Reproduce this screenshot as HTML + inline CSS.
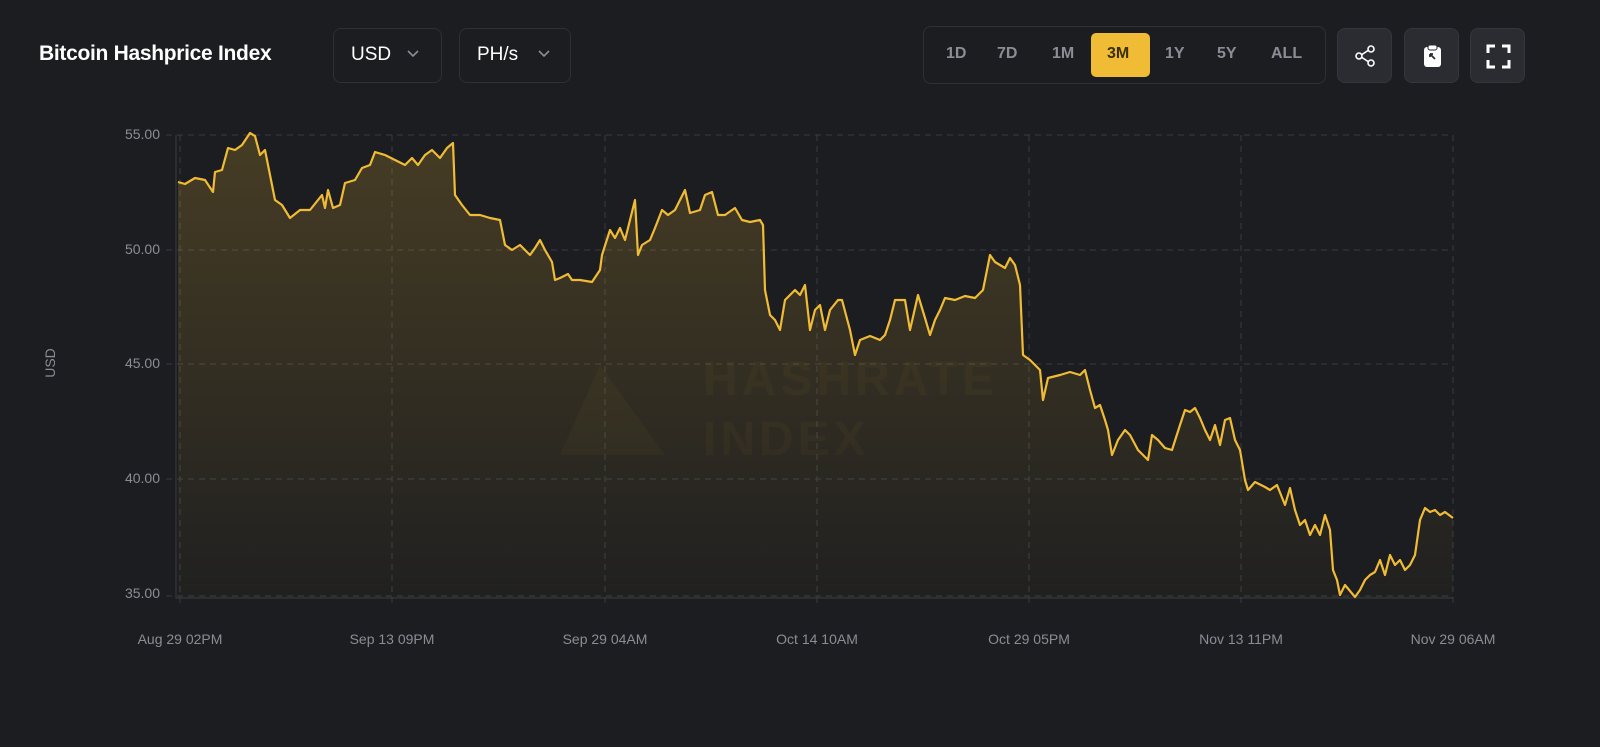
<!DOCTYPE html>
<html><head><meta charset="utf-8"><style>
*{margin:0;padding:0;box-sizing:border-box}
body{width:1600px;height:747px;background:#1c1d20;font-family:"Liberation Sans",sans-serif;position:relative;overflow:hidden;color:#fff}
.title{position:absolute;left:39px;top:42px;font-size:21px;font-weight:bold;letter-spacing:-0.3px}
.dd{position:absolute;top:28px;height:55px;border:1px solid #2e3035;border-radius:8px;font-size:19px;color:#fff;padding:15px 0 0 17px}
.dd svg{position:absolute;top:21px}
.seg{position:absolute;left:923px;top:26px;width:403px;height:58px;border:1px solid #2e3035;border-radius:8px}
.seg span{position:absolute;top:19px;font-size:16px;color:#8a8d95;font-weight:bold}
.act{position:absolute;left:1091px;top:33px;width:59px;height:44px;background:#f0bb35;border-radius:5px}
.btn{position:absolute;top:28px;width:55px;height:55px;background:#2b2c32;border:1px solid #34363c;border-radius:8px}
.yl{position:absolute;right:1440px;font-size:14px;color:#8a8d95}
.xl{position:absolute;top:631px;font-size:14px;color:#8a8d95;transform:translateX(-50%);white-space:nowrap}
</style></head><body>
<div class="title">Bitcoin Hashprice Index</div>
<div class="dd" style="left:333px;width:109px">USD<svg style="left:73px" width="12" height="8"><path d="M1 1l5 5 5-5" stroke="#8a8d95" stroke-width="1.6" fill="none"/></svg></div>
<div class="dd" style="left:459px;width:112px">PH/s<svg style="left:78px" width="12" height="8"><path d="M1 1l5 5 5-5" stroke="#8a8d95" stroke-width="1.6" fill="none"/></svg></div>
<div class="seg"></div>
<div class="act"></div>
<div class="seg" style="border:none">
<span style="left:23px">1D</span><span style="left:74px">7D</span><span style="left:129px">1M</span><span style="left:184px;color:#3a3000">3M</span><span style="left:242px">1Y</span><span style="left:294px">5Y</span><span style="left:348px">ALL</span></div>
<div class="btn" style="left:1337px"><svg width="55" height="55"><g stroke="#fff" stroke-width="1.6" fill="none"><circle cx="21" cy="27" r="3"/><circle cx="33" cy="20" r="3"/><circle cx="33" cy="34" r="3"/><path d="M24 25.5l6-4M24 28.5l6 4"/></g></svg></div>
<div class="btn" style="left:1404px"><svg width="55" height="55"><rect x="19" y="18" width="17" height="20" rx="3" fill="#fff"/><rect x="23" y="16" width="9" height="5" rx="2" fill="#fff" stroke="#2b2c32"/><path d="M25 25l5 5M25 25h3M25 25v3" stroke="#2b2c32" stroke-width="1.8"/></svg></div>
<div class="btn" style="left:1470px"><svg width="55" height="55"><g stroke="#fff" stroke-width="3" fill="none"><path d="M17 24v-7h7M31 17h7v7M38 31v7h-7M24 38h-7v-7"/></g></svg></div>

<div class="yl" style="top:126px">55.00</div>
<div class="yl" style="top:241px">50.00</div>
<div class="yl" style="top:355px">45.00</div>
<div class="yl" style="top:470px">40.00</div>
<div class="yl" style="top:585px">35.00</div>
<div style="position:absolute;left:35px;top:355px;font-size:14px;color:#8a8d95;transform:rotate(-90deg);transform-origin:center">USD</div>

<div class="xl" style="left:180px">Aug 29 02PM</div>
<div class="xl" style="left:392px">Sep 13 09PM</div>
<div class="xl" style="left:605px">Sep 29 04AM</div>
<div class="xl" style="left:817px">Oct 14 10AM</div>
<div class="xl" style="left:1029px">Oct 29 05PM</div>
<div class="xl" style="left:1241px">Nov 13 11PM</div>
<div class="xl" style="left:1453px">Nov 29 06AM</div>

<svg style="position:absolute;left:0;top:0" width="1600" height="747">
<defs><linearGradient id="g" x1="0" y1="0" x2="0" y2="1"><stop offset="0" stop-color="#f0bb35" stop-opacity="0.2"/><stop offset="1" stop-color="#f0bb35" stop-opacity="0.02"/></linearGradient></defs>
<g stroke="#3a3c42" stroke-width="1" stroke-dasharray="6,5">
<path d="M166 135H1453M166 250H1453M166 364H1453M166 479H1453M166 596H1453"/>
<path d="M180 135V606M392 135V606M605 135V606M817 135V606M1029 135V606M1241 135V606M1453 135V606"/>
</g>
<path d="M176 135V598H1453" stroke="#3a3c42" fill="none"/>
<polygon id="area" fill="url(#g)" points=""/>
<g fill="#f0bb35" opacity="0.035"><path d="M600 365L665 455H560Z"/></g>
<text x="703" y="395" font-family="Liberation Sans" font-weight="bold" font-size="48" fill="#f0bb35" opacity="0.035" letter-spacing="4">HASHRATE</text>
<text x="703" y="455" font-family="Liberation Sans" font-weight="bold" font-size="48" fill="#f0bb35" opacity="0.035" letter-spacing="4">INDEX</text>
<polyline id="ln" fill="none" stroke="#f0bb35" stroke-width="2.2" stroke-linejoin="round" points="178,182 185,184 195,178 205,180 213,192 215,172 222,170 228,148 235,150 242,145 250,133 255,136 260,155 265,150 270,175 275,200 282,205 290,218 300,210 310,210 318,200 322,195 325,208 328,190 333,208 340,205 345,183 355,180 362,168 370,165 375,152 385,155 395,160 405,165 412,158 418,165 425,155 432,150 440,158 447,148 453,143 455,195 462,205 470,215 480,215 490,218 500,220 505,245 512,250 520,245 530,255 535,248 540,240 545,250 552,262 555,280 560,278 568,274 572,280 580,280 592,282 600,270 602,255 610,230 615,238 620,228 625,240 630,220 635,200 638,255 642,245 650,240 655,228 662,210 668,215 675,210 685,190 690,213 700,210 705,195 712,192 718,215 725,215 735,208 742,220 750,222 760,220 763,225 765,290 770,315 775,320 780,330 785,300 795,290 800,295 805,285 810,330 815,310 820,305 825,330 830,310 838,300 842,300 850,330 855,355 860,340 870,336 880,340 885,335 890,320 895,300 905,300 910,330 918,295 925,318 930,335 935,320 940,310 945,298 955,300 965,296 975,298 983,290 990,255 995,262 1000,265 1005,268 1010,258 1015,265 1020,285 1023,355 1030,360 1040,370 1043,400 1048,378 1060,375 1070,372 1080,375 1085,370 1090,390 1095,408 1100,405 1105,420 1108,430 1112,455 1118,440 1125,430 1130,435 1138,450 1143,455 1148,460 1152,435 1158,440 1165,448 1172,450 1180,425 1185,410 1190,412 1195,408 1200,418 1205,430 1210,440 1215,425 1220,445 1225,420 1230,418 1235,440 1240,450 1245,480 1248,490 1255,482 1265,487 1270,490 1277,485 1285,505 1290,488 1295,510 1300,525 1305,520 1310,535 1315,525 1320,535 1325,515 1330,530 1333,570 1337,580 1340,595 1345,585 1355,597 1360,590 1365,580 1370,575 1375,572 1380,560 1385,575 1390,555 1395,565 1400,560 1405,570 1410,565 1415,555 1420,520 1425,508 1430,512 1435,510 1440,515 1445,512 1453,518"/>
</svg>
<script>
var p=document.getElementById('ln').getAttribute('points');
document.getElementById('area').setAttribute('points','178,598 '+p+' 1453,598');
</script>
</body></html>
